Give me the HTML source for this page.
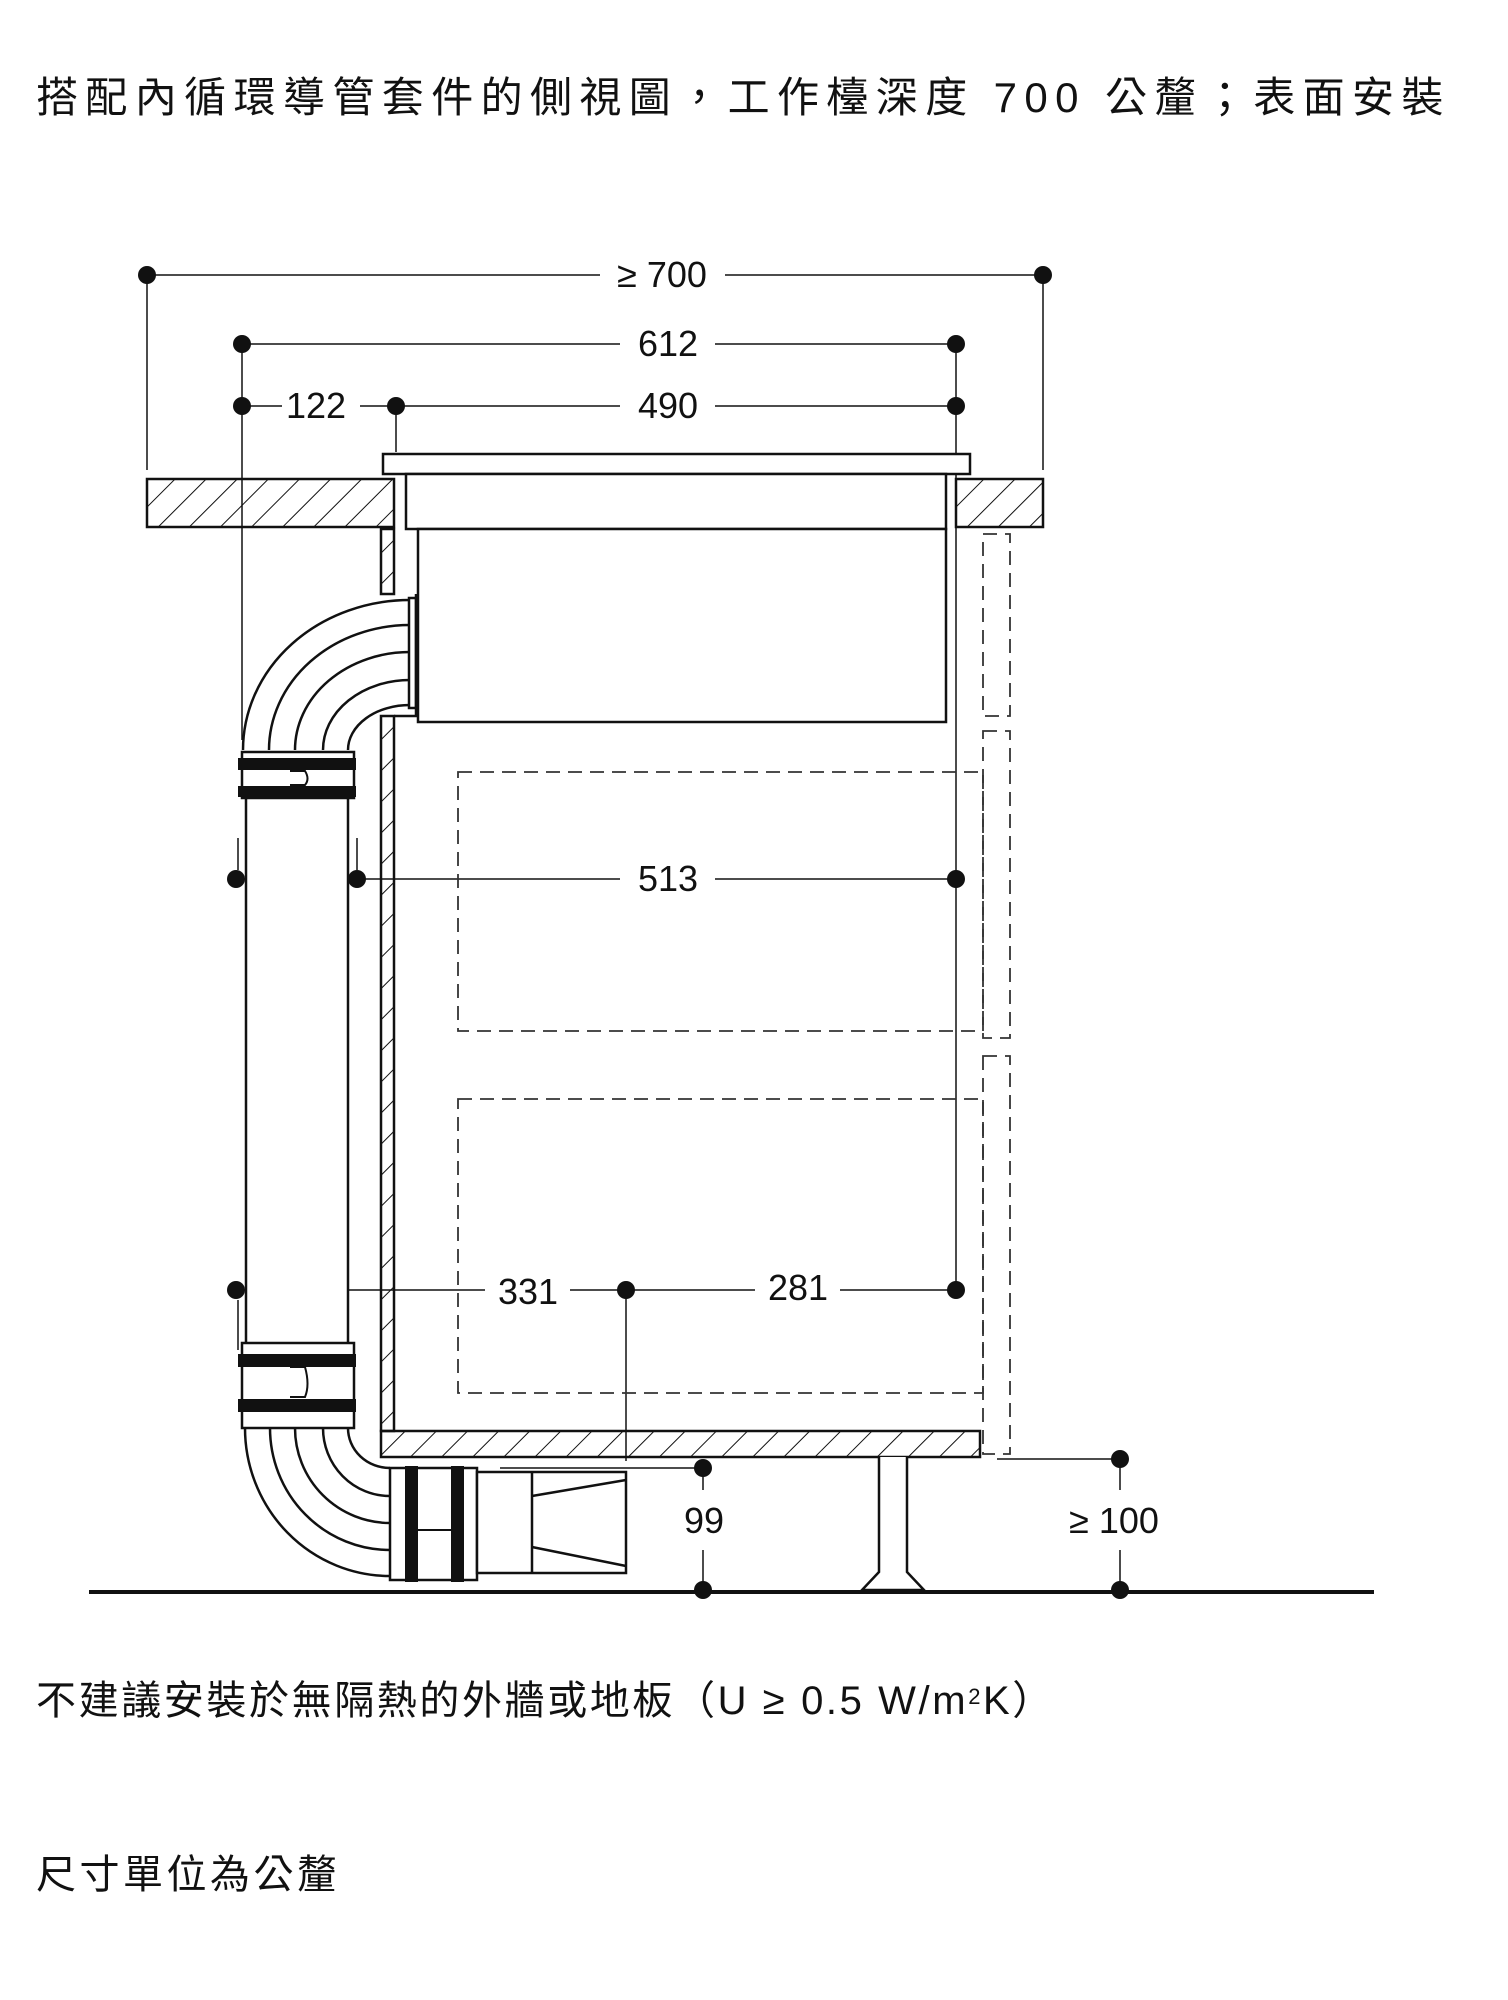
<!DOCTYPE html>
<html><head><meta charset="utf-8"><style>
html,body{margin:0;padding:0;background:#fff;}
body{width:1508px;height:2000px;position:relative;overflow:hidden;}
.t{position:absolute;left:36px;font-family:"Liberation Sans","Noto Sans CJK TC",sans-serif;color:#111;white-space:nowrap;}
</style></head><body>
<div class="t" style="top:64px;font-size:42px;letter-spacing:7.4px;">搭配內循環導管套件的側視圖，工作檯深度 700 公釐；表面安裝</div>
<div class="t" style="top:1668px;font-size:40px;letter-spacing:2.6px;">不建議安裝於無隔熱的外牆或地板（U ≥ 0.5 W/m<span style="font-size:22px;vertical-align:10px">2</span>K）</div>
<div class="t" style="top:1842px;font-size:40px;letter-spacing:3.5px;">尺寸單位為公釐</div>
<svg width="1508" height="2000" style="position:absolute;left:0;top:0" xmlns="http://www.w3.org/2000/svg">
<defs>
<pattern id="h" patternUnits="userSpaceOnUse" width="22" height="22" patternTransform="rotate(45)">
<line x1="0" y1="0" x2="0" y2="22" stroke="#111" stroke-width="2"/></pattern>
</defs>
<g font-family="Liberation Sans, sans-serif" font-size="36" fill="#111" text-anchor="middle">
<g stroke="#111" stroke-width="1.5">
<line x1="147" y1="275" x2="600" y2="275"/><line x1="725" y1="275" x2="1043" y2="275"/>
<line x1="147" y1="275" x2="147" y2="470"/><line x1="1043" y1="275" x2="1043" y2="470"/>
<line x1="242" y1="344" x2="620" y2="344"/><line x1="715" y1="344" x2="956" y2="344"/>
<line x1="242" y1="344" x2="242" y2="740"/><line x1="956" y1="344" x2="956" y2="1290"/>
<line x1="242" y1="406" x2="282" y2="406"/><line x1="360" y1="406" x2="620" y2="406"/><line x1="715" y1="406" x2="956" y2="406"/>
<line x1="396" y1="406" x2="396" y2="452"/>
<line x1="236" y1="879" x2="270" y2="879"/><line x1="330" y1="879" x2="620" y2="879"/><line x1="715" y1="879" x2="956" y2="879"/>
<line x1="357" y1="838" x2="357" y2="870"/><line x1="238" y1="838" x2="238" y2="870"/>
<line x1="236" y1="1290" x2="485" y2="1290"/><line x1="570" y1="1290" x2="755" y2="1290"/><line x1="840" y1="1290" x2="956" y2="1290"/>
<line x1="626" y1="1290" x2="626" y2="1461"/><line x1="238" y1="1300" x2="238" y2="1350"/>
<line x1="500" y1="1468" x2="703" y2="1468"/><line x1="703" y1="1468" x2="703" y2="1490"/><line x1="703" y1="1550" x2="703" y2="1590"/>
<line x1="997" y1="1459" x2="1120" y2="1459"/><line x1="1120" y1="1459" x2="1120" y2="1490"/><line x1="1120" y1="1550" x2="1120" y2="1590"/>
</g>
<g fill="#111">
<circle cx="147" cy="275" r="9"/><circle cx="1043" cy="275" r="9"/>
<circle cx="242" cy="344" r="9"/><circle cx="956" cy="344" r="9"/>
<circle cx="242" cy="406" r="9"/><circle cx="396" cy="406" r="9"/><circle cx="956" cy="406" r="9"/>
<circle cx="236" cy="879" r="9"/><circle cx="357" cy="879" r="9"/><circle cx="956" cy="879" r="9"/>
<circle cx="236" cy="1290" r="9"/><circle cx="626" cy="1290" r="9"/><circle cx="956" cy="1290" r="9"/>
<circle cx="703" cy="1468" r="9"/><circle cx="703" cy="1590" r="9"/>
<circle cx="1120" cy="1459" r="9"/><circle cx="1120" cy="1590" r="9"/>
</g>
<text x="662" y="287">≥ 700</text><text x="668" y="356">612</text>
<text x="316" y="418">122</text><text x="668" y="418">490</text>
<text x="298" y="891">99</text><text x="668" y="891">513</text>
<text x="528" y="1304">331</text><text x="798" y="1300">281</text>
<text x="704" y="1533">99</text><text x="1114" y="1533">≥ 100</text>
</g>
<g stroke="#111" stroke-width="2.5" fill="none">
<rect x="147" y="479" width="247" height="48" fill="url(#h)"/>
<rect x="956" y="479" width="87" height="48" fill="url(#h)"/>
<rect x="383" y="454" width="587" height="20" fill="#fff"/>
<rect x="406" y="474" width="540" height="55" fill="#fff"/>
<rect x="418" y="529" width="528" height="193" fill="#fff"/>
<rect x="381" y="529" width="13" height="65" fill="url(#h)"/>
<rect x="381" y="716" width="13" height="715" fill="url(#h)"/>
<line x1="394" y1="716" x2="418" y2="716"/>
<rect x="381" y="1431" width="599" height="26" fill="url(#h)"/>
<path d="M879 1457 V1572 L862 1590 H924 L907 1572 V1457" fill="#fff"/>
</g>
<g stroke="#333" stroke-width="1.8" fill="none" stroke-dasharray="14 8">
<rect x="458" y="772" width="525" height="259"/>
<rect x="458" y="1099" width="525" height="294"/>
<rect x="983" y="534" width="27" height="182"/>
<rect x="983" y="731" width="27" height="307"/>
<rect x="983" y="1056" width="27" height="398"/>
</g>
<line x1="89" y1="1592" x2="1374" y2="1592" stroke="#111" stroke-width="4"/>
<g stroke="#111" stroke-width="2.5" fill="#fff">
<rect x="246" y="797" width="102" height="547"/>
<path d="M243 750 A167 150 0 0 1 410 600 M269 750 A141 125 0 0 1 410 625 M295 750 A115 98 0 0 1 410 652 M323 750 A87 70 0 0 1 410 680 M348 750 A62 45 0 0 1 410 705" fill="none"/>
<rect x="409" y="598" width="7" height="110"/>
<line x1="416" y1="594" x2="416" y2="716"/>
<path d="M245 1428 A145 148 0 0 0 390 1576 M270 1428 A120 122 0 0 0 390 1550 M295 1428 A95 95 0 0 0 390 1523 M323 1428 A67 68 0 0 0 390 1496 M348 1428 A42 40 0 0 0 390 1468" fill="none"/>
<rect x="242" y="752" width="112" height="46"/>
<rect x="242" y="1343" width="112" height="85"/>
<rect x="390" y="1468" width="87" height="112"/>
<rect x="477" y="1472" width="149" height="101"/>
<line x1="532" y1="1472" x2="532" y2="1573"/>
<path d="M532 1496 L626 1480 M532 1547 L626 1566" fill="none"/>
</g>
<g fill="#111">
<rect x="238" y="758" width="118" height="12"/><rect x="238" y="786" width="118" height="11"/>
<rect x="238" y="1354" width="118" height="13"/><rect x="238" y="1399" width="118" height="13"/>
<rect x="405" y="1466" width="13" height="116"/><rect x="451" y="1466" width="13" height="116"/>
</g>
<g stroke="#111" stroke-width="2" fill="none">
<path d="M290 1367 H305 Q310 1385 305 1397 H290"/>
<path d="M290 771 H305 Q310 779 305 785 H290"/>
<path d="M418 1530 H451"/>
</g>
</svg>
</body></html>
